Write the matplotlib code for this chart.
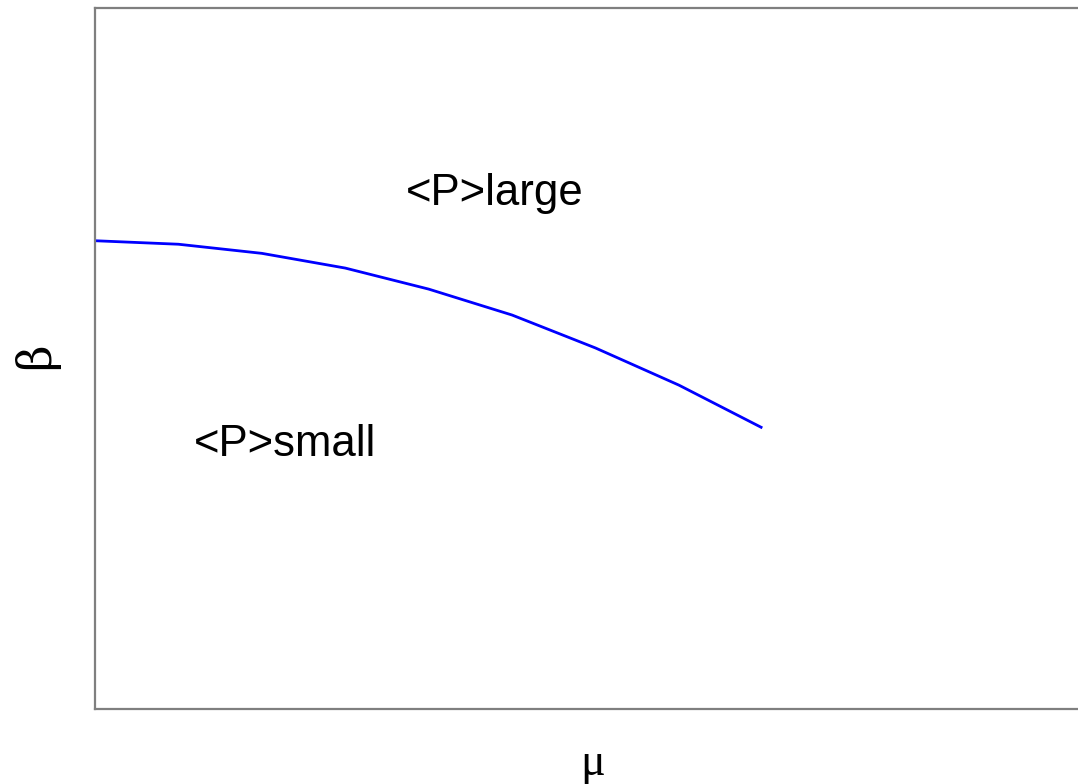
import matplotlib
matplotlib.use("Agg")
import matplotlib.pyplot as plt

# Data
mu = [0, 1, 2, 3, 4, 5, 6, 7, 8]
beta = [0.668, 0.663, 0.650, 0.629, 0.599, 0.562, 0.515, 0.462, 0.401]
labels = ["<P>large", "<P>small"]
label_pos = [(4.79, 0.735), (2.28, 0.378)]

W, H = 1078, 784
fig = plt.figure(figsize=(W / 100, H / 100), dpi=100)
left, right, top, bottom = 95, 1096, 8, 709
ax = fig.add_axes([left / W, 1 - bottom / H, (right - left) / W, (bottom - top) / H])
ax.set_xlim(0, 12)
ax.set_ylim(0, 1)

ax.plot(mu, beta, color="#0000ff", lw=2.0, solid_capstyle="butt")

for t, (x, y) in zip(labels, label_pos):
    ax.text(x, y, t, fontsize=31.5, family="Liberation Sans", ha="center", va="center", color="black")

for s in ax.spines.values():
    s.set_color("#7f7f7f")
    s.set_linewidth(1.6)
ax.set_xticks([])
ax.set_yticks([])

fig.text(36 / W, 1 - 356 / H, "β", rotation=90, fontsize=33, family="DejaVu Serif",
         ha="center", va="center")
fig.text(593 / W, 1 - 764 / H, "μ", fontsize=33, family="Liberation Serif",
         ha="center", va="center")

fig.savefig("out.png", dpi=100)
